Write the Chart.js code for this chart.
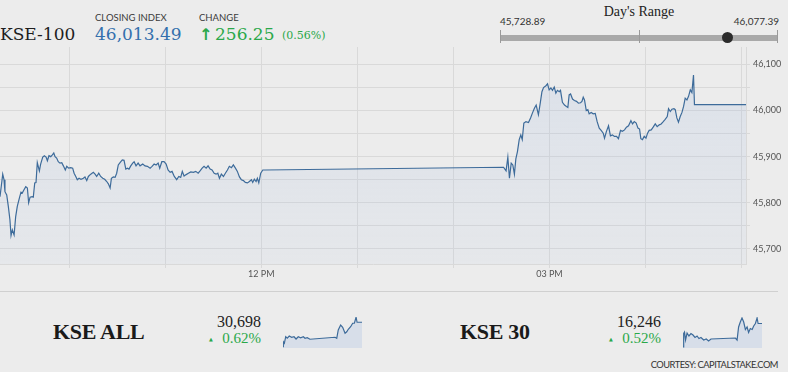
<!DOCTYPE html>
<html>
<head>
<meta charset="utf-8">
<script src="https://cdn.jsdelivr.net/npm/chart.js@4.4.0/dist/chart.umd.min.js"></script>
<style>
  html, body { margin:0; padding:0; }
  body { width:788px; height:372px; overflow:hidden; background:#ececec; position:relative; font-family: Lato, sans-serif; }
  .t { position:absolute; white-space:nowrap; line-height:1; }
  .serif { font-family: "DejaVu Serif", serif; }
  .lserif { font-family: "Liberation Serif", serif; }
  .lato { font-family: Lato, sans-serif; }
  canvas { position:absolute; }
</style>
</head>
<body>
<script>
// ---------- DATA ----------
const indexName = 'KSE-100';
const closingIndex = 46013.49;
const changePts = 256.25;
const changePct = 0.56;
const dayLow = 45728.89;
const dayHigh = 46077.39;

// main series: minutes after midnight, index value
const times = [556.7,558.4,559.2,559.8,560.9,561.9,562.9,563.6,564.4,565.5,566.5,567.5,568.8,569.8,570.6,571.7,572.8,573.8,574.6,575.5,576.7,577.5,578.4,579.2,580.0,581.3,582.1,583.4,584.4,585.5,586.3,587.3,588.4,589.4,590.3,591.1,592.1,593.1,594.2,595.3,596.3,597.5,598.4,599.6,600.9,602.1,603.0,604.2,605.0,606.1,607.3,608.8,609.8,610.9,611.9,613.4,615.0,616.1,617.1,618.4,619.6,620.9,622.1,623.4,624.4,625.5,626.3,627.5,628.6,629.6,630.6,631.7,633.1,634.2,635.3,636.3,637.3,638.4,639.6,640.5,641.7,643.0,644.2,645.9,647.3,648.8,650.5,651.7,653.0,654.2,655.5,656.5,657.8,659.2,660.5,661.7,663.0,664.2,665.6,667.1,668.4,669.6,670.6,671.7,673.0,674.4,675.9,677.5,679.0,680.5,681.7,683.0,684.2,685.5,686.7,688.0,689.2,690.5,691.7,692.8,693.8,695.0,696.3,697.5,698.8,700.0,701.3,702.5,703.8,705.0,706.3,707.5,708.8,710.0,711.3,712.5,713.8,714.6,715.6,716.7,717.5,718.4,719.6,720.9,722.3,871.3,872.9,874.0,875.0,876.1,877.1,878.1,879.0,880.0,881.1,882.1,883.0,884.0,885.3,886.9,888.2,889.4,890.6,891.7,893.1,894.2,895.3,896.3,897.8,898.8,899.8,900.9,901.9,903.0,904.0,905.0,906.1,906.9,908.1,909.4,910.6,911.5,912.3,913.2,914.4,915.6,916.9,918.1,919.4,920.3,921.1,921.9,923.0,924.0,924.8,926.1,927.3,928.6,929.8,931.1,932.3,933.6,934.4,935.6,936.9,938.1,939.4,940.6,941.9,943.1,944.4,945.6,946.9,948.1,949.4,950.9,951.9,953.0,954.2,955.3,956.3,957.1,958.1,959.2,960.3,961.3,962.3,963.6,964.8,966.1,967.3,968.6,969.8,971.1,972.3,973.6,974.4,975.5,976.5,977.8,978.6,979.6,980.6,981.7,982.8,983.8,984.8,985.9,986.9,988.0,989.0,990.0,990.6,1022.8];
const values = [45813,45862,45850,45824,45817,45792,45763,45729,45741,45730,45770,45792,45810,45823,45821,45828,45835,45832,45800,45812,45813,45812,45843,45844,45887,45869,45884,45899,45902,45899,45891,45902,45900,45904,45908,45900,45897,45889,45886,45887,45880,45871,45879,45875,45876,45875,45864,45856,45850,45853,45851,45853,45856,45848,45857,45862,45866,45862,45857,45864,45857,45853,45851,45846,45841,45832,45853,45856,45855,45864,45882,45887,45893,45892,45873,45875,45873,45880,45886,45889,45880,45886,45880,45884,45880,45879,45875,45879,45884,45882,45886,45875,45889,45889,45884,45871,45866,45868,45857,45850,45857,45855,45868,45858,45861,45864,45867,45866,45868,45864,45869,45875,45879,45875,45880,45873,45871,45864,45862,45864,45853,45862,45857,45864,45871,45879,45876,45882,45875,45868,45856,45850,45848,45844,45843,45846,45850,45844,45851,45846,45853,45843,45864,45871,45871,45877,45869,45899,45853,45886,45882,45862,45895,45911,45937,45947,45937,45973,45976,45974,45984,45995,46005,46012,45991,46015,46041,46050,46054,46058,46045,46049,46044,46051,46038,46044,46041,46044,46018,46012,46009,46007,46034,46036,46025,46022,46020,46016,46017,46020,46029,46023,46000,46002,45993,45996,45993,45994,45976,45962,45957,45951,45940,45955,45967,45945,45947,45944,45944,45939,45957,45955,45958,45964,45967,45978,45971,45976,45973,45962,45960,45939,45937,45944,45940,45951,45957,45958,45964,45971,45965,45969,45971,45976,45981,45987,46004,45998,46003,46004,46002,45984,45975,45987,45996,46009,46027,46023,46031,46045,46039,46077,46013,46013];

const xGridTimes = [600,660,720,780,840,900,960,1020];
const xLabelTimes = [720,900];
const xLabelTexts = ['12 PM','03 PM'];
const yGridValues = [45700,45750,45800,45850,45900,45950,46000,46050,46100];
const yLabelValues = [45700,45800,45900,46000,46100];

// sub indices
const allName = 'KSE ALL', allValue = '30,698', allPct = 0.62;
const allTimes  = [557,559,565,573,582,594,608,622,634,647,661,677,687,700,716,864,874,883,897,909,923,933,942,956,968,978,988,994,1023];
const allValues = [30600,30620,30614,30640,30634,30643,30638,30640,30631,30640,30636,30640,30634,30636,30630,30638,30634,30667,30687,30678,30654,30660,30670,30680,30694,30694,30718,30698,30698];
const k30Name = 'KSE 30', k30Value = '16,246', k30Pct = 0.52;
const k30Times  = [557,561,566,572,581,592,604,616,628,640,651,663,679,694,708,722,866,876,885,895,905,915,925,935,944,954,965,974,984,994,1000,1023];
const k30Values = [16199,16226,16229,16213,16227,16221,16226,16223,16218,16221,16216,16218,16213,16215,16211,16215,16217,16213,16239,16249,16257,16249,16234,16239,16228,16236,16234,16241,16246,16257,16246,16246];

// ---------- HELPERS ----------
function addText(txt, cls, style) {
  const d = document.createElement('div');
  d.className = 't ' + cls;
  d.textContent = txt;
  Object.assign(d.style, style);
  document.body.appendChild(d);
  return d;
}
function addBox(style) {
  const d = document.createElement('div');
  d.style.position = 'absolute';
  Object.assign(d.style, style);
  document.body.appendChild(d);
  return d;
}
function addCanvas(left, top, w, h) {
  const c = document.createElement('canvas');
  c.width = w; c.height = h;
  c.style.left = left + 'px'; c.style.top = top + 'px';
  c.style.width = w + 'px'; c.style.height = h + 'px';
  document.body.appendChild(c);
  return c;
}
const fmt = (v, d) => v.toLocaleString('en-US', {minimumFractionDigits: d, maximumFractionDigits: d});
const GREEN = '#2aa84a';
const LINE = '#3d6b9a';

// ---------- HEADER ----------
addText(indexName, 'serif', {left:'0px', top:'26px', fontSize:'17px', color:'#1e1e1e'});
addText('CLOSING INDEX', 'lato', {left:'95px', top:'12.5px', fontSize:'9.5px', color:'#3a3a3a'});
addText(fmt(closingIndex, 2), 'serif', {left:'95px', top:'26px', fontSize:'17px', color:'#3470ad'});
addText('CHANGE', 'lato', {left:'199px', top:'12.5px', fontSize:'9.5px', color:'#3a3a3a'});
addText('\u2191', 'lato', {left:'199px', top:'27px', fontSize:'16px', color:GREEN, fontWeight:'bold', fontFamily:'"DejaVu Sans"'});
addText(fmt(changePts, 2), 'serif', {left:'215px', top:'26px', fontSize:'17px', color:GREEN});
addText('(' + fmt(changePct, 2) + '%)', 'serif', {left:'282px', top:'30px', fontSize:'11px', color:GREEN});

// Day's range
const rL = 500, rR = 778;
addText("Day's Range", 'lserif', {left:'639px', top:'4.5px', fontSize:'14px', color:'#222', transform:'translateX(-50%)'});
addText(fmt(dayLow, 2), 'lato', {left:rL + 'px', top:'15.5px', fontSize:'10px', color:'#333'});
addText(fmt(dayHigh, 2), 'lato', {right:(788 - rR - 1) + 'px', top:'15.5px', fontSize:'10px', color:'#333'});
addBox({left:rL + 'px', top:'35px', width:(rR - rL) + 'px', height:'5.5px', background:'#a9a9a9'});
[rL, (rL + rR) / 2, rR - 1].forEach(x => addBox({left:x + 'px', top:'29.5px', width:'1px', height:'13.5px', background:'#9a9a9a'}));
const dotX = rL + (closingIndex - dayLow) / (dayHigh - dayLow) * (rR - rL);
addBox({left:(dotX - 5.5) + 'px', top:'32px', width:'11px', height:'11px', borderRadius:'50%', background:'#2b2b2b'});

// ---------- MAIN CHART ----------
const mainCanvas = addCanvas(0, 47, 788, 237);
new Chart(mainCanvas.getContext('2d'), {
  type: 'line',
  data: {
    datasets: [{
      data: times.map((t, i) => ({x: t, y: values[i]})),
      borderColor: LINE,
      borderWidth: 1.2,
      pointRadius: 0,
      tension: 0,
      fill: 'start',
      backgroundColor: (ctx) => {
        const ch = ctx.chart; const a = ch.chartArea;
        if (!a) return 'rgba(160,185,225,0.15)';
        const g = ch.ctx.createLinearGradient(0, a.top, 0, a.bottom);
        g.addColorStop(0, 'rgba(160,185,225,0.22)');
        g.addColorStop(1, 'rgba(160,185,225,0.08)');
        return g;
      }
    }]
  },
  options: {
    responsive: false, animation: false, devicePixelRatio: 1,
    layout: { padding: 0 },
    plugins: { legend: {display:false}, tooltip: {enabled:false} },
    scales: {
      x: {
        type: 'linear', min: 556.7, max: 1022.8,
        afterBuildTicks: (s) => { s.ticks = xGridTimes.map(v => ({value: v})); },
        afterFit: (s) => { s.height = 20; s.paddingLeft = 0; s.paddingRight = 0; },
        ticks: {
          autoSkip: false, maxRotation: 0, padding: 1,
          font: {family: 'Lato', size: 9}, color: '#555',
          callback: (v) => { const i = xLabelTimes.indexOf(v); return i >= 0 ? xLabelTexts[i] : ''; }
        },
        grid: { color: '#d9d9d9', tickLength: 4, lineWidth: 1 },
        border: { color: '#d9d9d9' }
      },
      y: {
        position: 'right', min: 45667, max: 46138,
        afterBuildTicks: (s) => { s.ticks = yGridValues.map(v => ({value: v})); },
        afterFit: (s) => { s.width = 42; s.paddingTop = 0; s.paddingBottom = 0; },
        ticks: {
          autoSkip: false, padding: 3,
          font: {family: 'Lato', size: 9}, color: '#555',
          callback: (v) => yLabelValues.includes(v) ? v.toLocaleString('en-US') : ''
        },
        grid: { color: '#d9d9d9', tickLength: 4, lineWidth: 1 },
        border: { color: '#d9d9d9' }
      }
    }
  }
});

// ---------- BOTTOM ----------
addBox({left:'0px', top:'291px', width:'778px', height:'1px', background:'#d0d0d0'});

function sparkline(left, tArr, vArr, vMin, vMax) {
  const c = addCanvas(left, 317, 79, 31);
  new Chart(c.getContext('2d'), {
    type: 'line',
    data: { datasets: [{
      data: tArr.map((t, i) => ({x: t, y: vArr[i]})),
      borderColor: LINE, borderWidth: 1.2, pointRadius: 0, tension: 0,
      fill: 'start', backgroundColor: 'rgba(160,185,225,0.28)'
    }]},
    options: {
      responsive: false, animation: false, devicePixelRatio: 1,
      layout: { padding: 0 },
      plugins: { legend: {display:false}, tooltip: {enabled:false} },
      scales: {
        x: { type:'linear', display:false, min: 557, max: 1023 },
        y: { display:false, min: vMin, max: vMax }
      }
    }
  });
}

function subIndex(nameLeft, name, rightEdge, valueTxt, pct, arrowLeft, sparkLeft, tArr, vArr, vMin, vMax) {
  addText(name, 'lserif', {left:nameLeft + 'px', top:'320.5px', fontSize:'22px', fontWeight:'bold', color:'#1a1a1a', letterSpacing:'-0.3px'});
  addText(valueTxt, 'lserif', {right:(788 - rightEdge) + 'px', top:'313.5px', fontSize:'16px', color:'#222'});
  addText(fmt(pct, 2) + '%', 'lserif', {right:(788 - rightEdge) + 'px', top:'330.5px', fontSize:'15px', color:GREEN});
  addText('\u25B2', 'lato', {left:arrowLeft + 'px', top:'336.5px', fontSize:'5px', color:GREEN, fontFamily:'"DejaVu Sans"'});
  sparkline(sparkLeft, tArr, vArr, vMin, vMax);
}
subIndex(53, allName, 261, allValue, allPct, 209, 283, allTimes, allValues, 30595, 30719);
subIndex(460, k30Name, 661, k30Value, k30Pct, 609, 683, k30Times, k30Values, 16197, 16259);

addText('COURTESY: CAPITALSTAKE.COM', 'lato', {right:'10px', top:'360px', fontSize:'9.3px', color:'#333', letterSpacing:'-0.5px'});
</script>
</body>
</html>
